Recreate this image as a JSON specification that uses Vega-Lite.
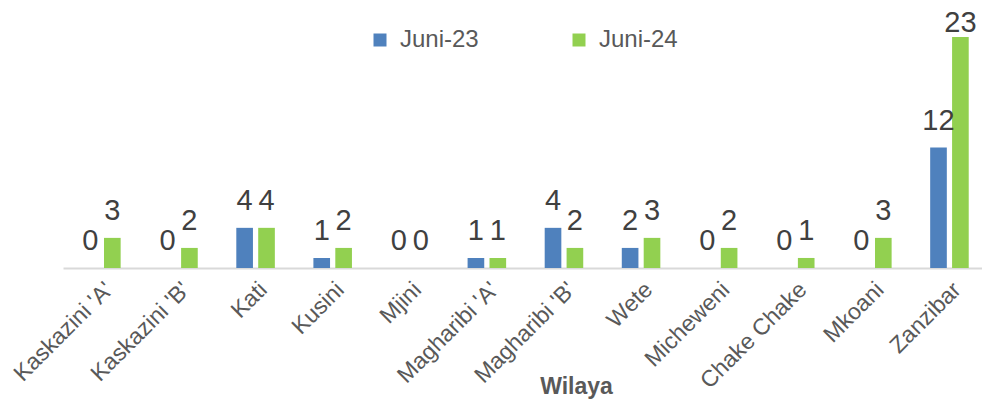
{
  "$schema": "https://vega.github.io/schema/vega-lite/v6.json",
  "width": 919,
  "height": 251,
  "autosize": {"type": "none"},
  "padding": {"left": 63, "top": 17, "right": 0, "bottom": 134},
  "config": {"view": {"stroke": null}, "font": "Liberation Sans"},
  "data": {
    "values": [
      {"Wilaya": "Kaskazini 'A'", "Periode": "Juni-23", "value": 0},
      {"Wilaya": "Kaskazini 'A'", "Periode": "Juni-24", "value": 3},
      {"Wilaya": "Kaskazini 'B'", "Periode": "Juni-23", "value": 0},
      {"Wilaya": "Kaskazini 'B'", "Periode": "Juni-24", "value": 2},
      {"Wilaya": "Kati", "Periode": "Juni-23", "value": 4},
      {"Wilaya": "Kati", "Periode": "Juni-24", "value": 4},
      {"Wilaya": "Kusini", "Periode": "Juni-23", "value": 1},
      {"Wilaya": "Kusini", "Periode": "Juni-24", "value": 2},
      {"Wilaya": "Mjini", "Periode": "Juni-23", "value": 0},
      {"Wilaya": "Mjini", "Periode": "Juni-24", "value": 0},
      {"Wilaya": "Magharibi 'A'", "Periode": "Juni-23", "value": 1},
      {"Wilaya": "Magharibi 'A'", "Periode": "Juni-24", "value": 1},
      {"Wilaya": "Magharibi 'B'", "Periode": "Juni-23", "value": 4},
      {"Wilaya": "Magharibi 'B'", "Periode": "Juni-24", "value": 2},
      {"Wilaya": "Wete", "Periode": "Juni-23", "value": 2},
      {"Wilaya": "Wete", "Periode": "Juni-24", "value": 3},
      {"Wilaya": "Micheweni", "Periode": "Juni-23", "value": 0},
      {"Wilaya": "Micheweni", "Periode": "Juni-24", "value": 2},
      {"Wilaya": "Chake Chake", "Periode": "Juni-23", "value": 0},
      {"Wilaya": "Chake Chake", "Periode": "Juni-24", "value": 1},
      {"Wilaya": "Mkoani", "Periode": "Juni-23", "value": 0},
      {"Wilaya": "Mkoani", "Periode": "Juni-24", "value": 3},
      {"Wilaya": "Zanzibar", "Periode": "Juni-23", "value": 12},
      {"Wilaya": "Zanzibar", "Periode": "Juni-24", "value": 23}
    ]
  },
  "encoding": {
    "x": {
      "field": "Wilaya",
      "type": "nominal",
      "sort": null,
      "scale": {"paddingInner": 0.5, "paddingOuter": 0.21, "align": 0.59},
      "axis": {
        "title": "Wilaya",
        "titleFontWeight": "bold",
        "titleFontSize": 23,
        "titleColor": "#595959",
        "titleX": 513,
        "titleY": 125,
        "titleBaseline": "alphabetic",
        "labelAngle": -45,
        "labelFontSize": 23,
        "labelColor": "#595959",
        "labelPadding": 10,
        "domainColor": "#d9d9d9",
        "domainWidth": 2,
        "ticks": false
      }
    },
    "xOffset": {"field": "Periode", "type": "nominal", "scale": {"paddingInner": 0.24}}
  },
  "layer": [
    {
      "mark": {"type": "bar"},
      "encoding": {
        "y": {"field": "value", "type": "quantitative", "scale": {"domain": [0, 25], "nice": false}, "axis": null},
        "color": {
          "field": "Periode",
          "type": "nominal",
          "scale": {"range": ["#4F81BD", "#92D050"]},
          "legend": {
            "title": null,
            "orient": "none",
            "direction": "horizontal",
            "legendX": 305,
            "legendY": 11,
            "padding": 0,
            "symbolType": "square",
            "symbolSize": 169,
            "symbolStrokeWidth": 0,
            "labelFontSize": 24,
            "labelColor": "#595959",
            "labelOffset": 8,
            "columnPadding": 88
          }
        }
      }
    },
    {
      "mark": {"type": "text", "fontSize": 29, "color": "#404040", "baseline": "alphabetic", "dy": -18},
      "encoding": {
        "y": {"field": "value", "type": "quantitative", "scale": {"domain": [0, 21.7], "range": [251, 33.1], "clamp": true, "nice": false}, "axis": null},
        "text": {"field": "value", "type": "quantitative"}
      }
    }
  ],
  "resolve": {"scale": {"y": "independent"}}
}
